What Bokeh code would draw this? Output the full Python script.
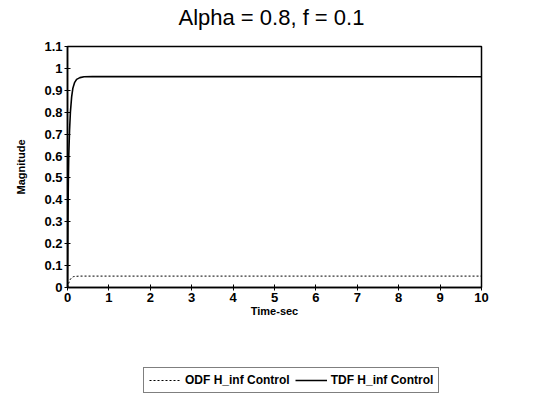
from bokeh.plotting import figure
from bokeh.layouts import column
from bokeh.models import FixedTicker, Legend, LegendItem, Title, Range1d
from bokeh.embed import file_html
from bokeh.resources import INLINE

# Data
tdf_t = [0, 0.01, 0.02, 0.03, 0.05, 0.07, 0.1, 0.13, 0.17, 0.22, 0.3, 0.4, 0.6, 10]
tdf_y = [0, 0.3, 0.48, 0.6, 0.72, 0.8, 0.87, 0.91, 0.935, 0.95, 0.958, 0.962, 0.963, 0.962]
odf_t = [0, 0.03, 0.06, 0.1, 0.15, 0.2, 0.3, 10]
odf_y = [0, 0.02, 0.035, 0.045, 0.05, 0.051, 0.052, 0.052]
x_ticks = [0, 1, 2, 3, 4, 5, 6, 7, 8, 9, 10]
y_ticks = [0, 0.1, 0.2, 0.3, 0.4, 0.5, 0.6, 0.7, 0.8, 0.9, 1, 1.1]
y_labels = ["0", "0.1", "0.2", "0.3", "0.4", "0.5", "0.6", "0.7", "0.8", "0.9", "1", "1.1"]
title_text = "Alpha = 0.8,  f = 0.1"
legend_labels = ["ODF H_inf Control", "TDF H_inf Control"]

FONT = "Liberation Sans"
W, BL, BR = 526, 67, 45

# Title strip
p0 = figure(width=W, height=36, output_backend="svg", toolbar_location=None,
            x_range=Range1d(0, 1), y_range=Range1d(0, 1),
            min_border_left=BL, min_border_right=BR, min_border_top=0, min_border_bottom=0)
p0.title = None
p0.axis.visible = False
p0.grid.visible = False
p0.outline_line_color = None
p0.border_fill_color = "white"
p0.add_layout(Title(text=title_text, align="center", text_font=FONT, text_font_size="22px",
                    text_font_style="normal", text_color="black", standoff=4), "above")

# Main chart
p = figure(width=W, height=296, output_backend="svg", toolbar_location=None,
           x_range=(0, 10), y_range=(0, 1.1),
           min_border_left=BL, min_border_right=BR, min_border_top=10, min_border_bottom=45)
p.title = None
p.background_fill_color = "white"
p.border_fill_color = "white"
p.outline_line_color = "black"
p.outline_line_width = 1.5
p.grid.visible = False

r_odf = p.line(odf_t, odf_y, line_color="black", line_width=1, line_dash="2 2")
r_tdf = p.line(tdf_t, tdf_y, line_color="black", line_width=1.6)

p.xaxis.ticker = FixedTicker(ticks=x_ticks)
p.yaxis.ticker = FixedTicker(ticks=y_ticks)
p.yaxis.major_label_overrides = {v: s for v, s in zip(y_ticks, y_labels)}
for ax in (p.xaxis[0], p.yaxis[0]):
    ax.axis_line_color = "black"
    ax.axis_line_width = 1.5
    ax.major_tick_line_color = "black"
    ax.major_tick_in = 3
    ax.major_tick_out = 3
    ax.minor_tick_line_color = None
    ax.major_label_text_font = FONT
    ax.major_label_text_font_size = "13px"
    ax.major_label_text_font_style = "bold"
    ax.major_label_text_color = "black"
    ax.axis_label_text_font = FONT
    ax.axis_label_text_font_size = "11px"
    ax.axis_label_text_font_style = "bold"
    ax.axis_label_text_color = "black"
p.xaxis.axis_label = "Time-sec"
p.yaxis.axis_label = "Magnitude"
p.xaxis.major_label_standoff = 2
p.yaxis.major_label_standoff = 2
p.xaxis.axis_label_standoff = 0
p.yaxis.axis_label_standoff = 14

# Legend strip (same series, drawn out of view)
p2 = figure(width=W, height=71, output_backend="svg", toolbar_location=None,
            x_range=Range1d(0, 10), y_range=Range1d(100, 101),
            min_border_left=BL, min_border_right=BR, min_border_top=0, min_border_bottom=0)
p2.axis.visible = False
p2.grid.visible = False
p2.outline_line_color = None
p2.background_fill_color = "white"
p2.border_fill_color = "white"
l_odf = p2.line(odf_t, odf_y, line_color="black", line_width=1, line_dash="2 2")
l_tdf = p2.line(tdf_t, tdf_y, line_color="black", line_width=1.6)

legend = Legend(items=[LegendItem(label=legend_labels[0], renderers=[l_odf]),
                       LegendItem(label=legend_labels[1], renderers=[l_tdf])],
                orientation="horizontal", location=(76, 10),
                label_text_font=FONT, label_text_font_size="12px", label_text_font_style="bold",
                label_text_color="black", glyph_width=32, glyph_height=12,
                label_standoff=4, spacing=5, padding=5, margin=0,
                border_line_color="black", border_line_width=1.2,
                background_fill_color="white", background_fill_alpha=1.0)
p2.add_layout(legend, "center")

open("out.html", "w").write(file_html(column(p0, p, p2, spacing=0), INLINE))
